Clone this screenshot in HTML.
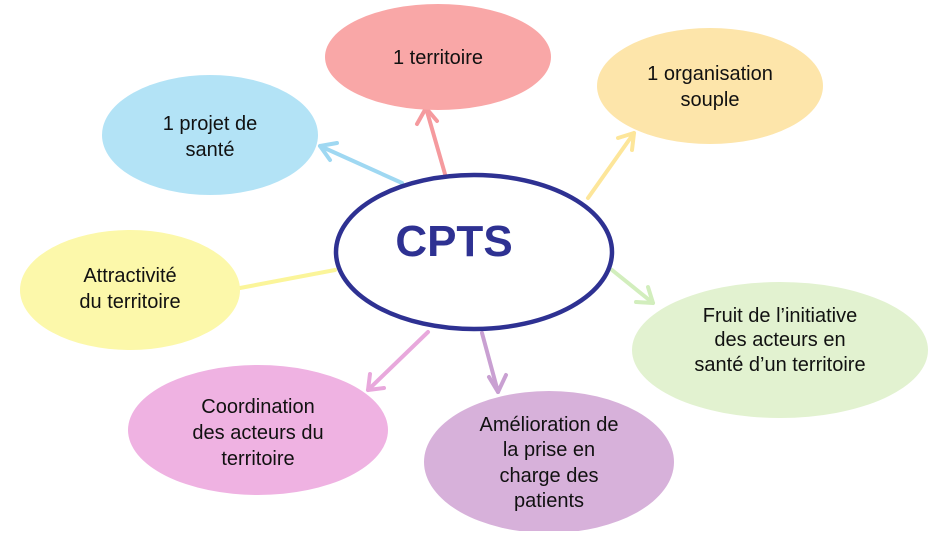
<!DOCTYPE html>
<html><head><meta charset="utf-8"><style>
body{margin:0;background:#fff;}
svg text{font-family:"Liberation Sans",sans-serif;font-size:20px;fill:#111;text-anchor:middle;}
</style></head><body>
<svg width="945" height="531" viewBox="0 0 945 531" xmlns="http://www.w3.org/2000/svg">
<g stroke-width="4" fill="none" stroke-linecap="round" stroke-linejoin="round">
<g stroke="#f59a9e"><line x1="445" y1="174" x2="426" y2="108"/><polyline points="417,124 426,108 437,121"/></g>
<g stroke="#fde69a"><line x1="588" y1="198" x2="634" y2="133"/><polyline points="618,138 634,133 632,150"/></g>
<g stroke="#9fd8f2"><line x1="402" y1="183" x2="320" y2="146"/><polyline points="330,160 320,146 337,143"/></g>
<g stroke="#fbf59a"><line x1="335" y1="270" x2="240" y2="288"/></g>
<g stroke="#d2eebd"><line x1="612" y1="270" x2="653" y2="303"/><polyline points="636,302 653,303 648,287"/></g>
<g stroke="#e8a8dc"><line x1="428" y1="332" x2="368" y2="390"/><polyline points="370,374 368,390 384,388"/></g>
<g stroke="#c9a0d2"><line x1="482" y1="333" x2="498" y2="392"/><polyline points="489,377 498,392 506,375"/></g>
</g>
<ellipse cx="438" cy="57" rx="113" ry="53" fill="#f9a7a7"/>
<ellipse cx="710" cy="86" rx="113" ry="58" fill="#fde5aa"/>
<ellipse cx="210" cy="135" rx="108" ry="60" fill="#b3e3f6"/>
<ellipse cx="130" cy="290" rx="110" ry="60" fill="#fcf8aa"/>
<ellipse cx="780" cy="350" rx="148" ry="68" fill="#e2f2d0"/>
<ellipse cx="258" cy="430" rx="130" ry="65" fill="#efb2e2"/>
<ellipse cx="549" cy="462" rx="125" ry="71" fill="#d7b1da"/>
<ellipse cx="474" cy="252" rx="138" ry="77" fill="#fff" stroke="#2e3192" stroke-width="4.5"/>
<text x="454" y="256" style="font-size:44px;font-weight:bold;fill:#2e3192">CPTS</text>
<text x="438" y="64">1 territoire</text>
<text x="710" y="80">1 organisation</text><text x="710" y="106">souple</text>
<text x="210" y="130">1 projet de</text><text x="210" y="156">santé</text>
<text x="130" y="282">Attractivité</text><text x="130" y="308">du territoire</text>
<text x="780" y="322">Fruit de l’initiative</text><text x="780" y="346">des acteurs en</text><text x="780" y="371">santé d’un  territoire</text>
<text x="258" y="413">Coordination</text><text x="258" y="439">des acteurs du</text><text x="258" y="465">territoire</text>
<text x="549" y="431">Amélioration de</text><text x="549" y="456">la prise en</text><text x="549" y="482">charge des</text><text x="549" y="507">patients</text>
</svg>
</body></html>
